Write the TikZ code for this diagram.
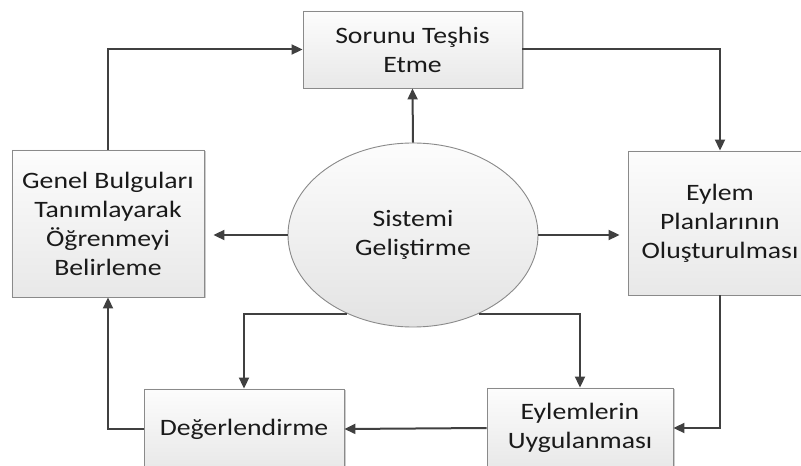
\documentclass[tikz,border=0pt]{standalone}
\usepackage{fontspec}
\setmainfont[FakeStretch=1.18]{Carlito}
\usetikzlibrary{arrows.meta,shapes.geometric,shadows}
\definecolor{linec}{HTML}{404040}
\definecolor{borderc}{HTML}{8A8A8A}
\definecolor{textc}{HTML}{1A1A1A}
\tikzset{
  procbox/.style={rectangle, draw=borderc, line width=0.9bp, top color=white!99!black, bottom color=white!91!black,
    inner sep=0pt, align=center, text=textc, font=\fontsize{23.5bp}{29bp}\selectfont,
    drop shadow={shadow xshift=1.5bp, shadow yshift=-1.5bp, opacity=0.2, fill=black}},
  centerell/.style={ellipse, draw=borderc, line width=0.9bp, top color=white!99!black, bottom color=white!89!black,
    inner sep=0pt, align=center, text=textc, font=\fontsize{23.5bp}{29bp}\selectfont},
  conn/.style={draw=linec, line width=2bp, -{Triangle[length=11bp,width=10bp]}}
}
\begin{document}
\begin{tikzpicture}[x=1bp,y=-1bp]
\useasboundingbox (0,0) rectangle (801,466);
\clip (0,0) rectangle (801,466);
\fill[white] (0,0) rectangle (801,466);
\node[procbox, minimum width=219bp, minimum height=77bp] (tb) at (412.5,49.5) {Sorunu Teşhis\\Etme};
\node[procbox, minimum width=192bp, minimum height=147bp] (lb) at (108,223.5) {Genel Bulguları\\Tanımlayarak\\Öğrenmeyi\\Belirleme};
\node[procbox, minimum width=184bp, minimum height=144bp] (rb) at (720,223) {Eylem\\Planlarının\\Oluşturulması};
\node[procbox, minimum width=200bp, minimum height=80bp] (bl) at (244,429) {Değerlendirme};
\node[procbox, minimum width=186bp, minimum height=80bp] (br) at (580,428) {Eylemlerin\\Uygulanması};
\node[centerell, minimum width=250bp, minimum height=184bp] (el) at (413,235) {Sistemi\\Geliştirme};
% connectors
\draw[conn] (el.north) -- (tb.south);
\draw[conn, shorten >=9bp] (el.west) -- (el.west -| lb.east);
\draw[conn, shorten >=8bp] (el.east) -- (el.east -| rb.west);
\draw[conn] (el.230) -| (bl.north);
\draw[conn] (el.310) -| (br.north);
\draw[conn] (lb.north) |- (tb.west);
\draw[conn] (tb.east) -| (rb.north);
\draw[conn] (rb.south) |- (br.east);
\draw[conn] (br.west) -- (bl.east);
\draw[conn] (bl.west) -| (lb.south);
\end{tikzpicture}
\end{document}
